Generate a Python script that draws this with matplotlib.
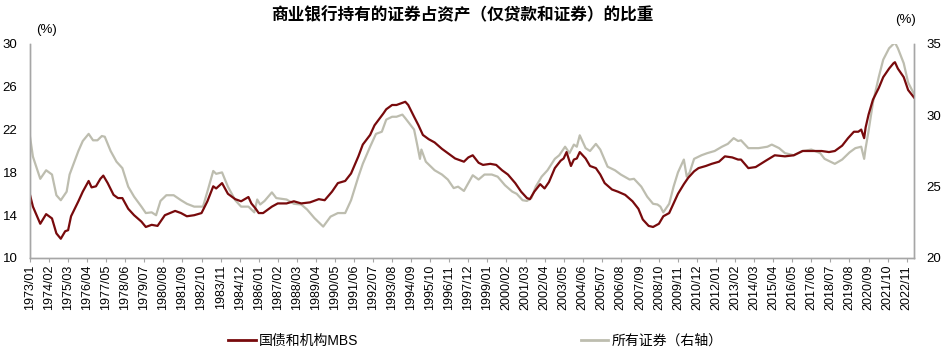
import matplotlib
matplotlib.use('Agg')
import matplotlib.pyplot as plt
from matplotlib.lines import Line2D

plt.rcParams['font.family'] = ['Liberation Sans', 'Noto Sans CJK SC', 'DejaVu Sans']

# 国债和机构MBS (left axis, %)
mbs_dates = ['1973/01', '1973/03', '1973/08', '1973/12', '1974/04', '1974/07', '1974/10', '1975/01',
             '1975/03', '1975/05', '1975/10', '1976/01', '1976/05', '1976/07', '1976/10', '1977/01',
             '1977/03', '1977/06', '1977/10', '1978/01', '1978/04', '1978/08', '1978/12', '1979/05',
             '1979/08', '1979/12', '1980/04', '1980/09', '1981/04', '1981/08', '1981/12', '1982/05',
             '1982/10', '1983/02', '1983/06', '1983/08', '1983/12', '1984/04', '1984/09', '1985/01',
             '1985/06', '1985/08', '1985/11', '1986/01', '1986/04', '1986/10', '1987/02', '1987/08',
             '1988/01', '1988/06', '1988/12', '1989/06', '1989/10', '1990/03', '1990/07', '1990/12',
             '1991/04', '1991/09', '1991/12', '1992/05', '1992/08', '1993/02', '1993/04', '1993/08',
             '1993/11', '1994/03', '1994/05', '1994/07', '1994/11', '1995/02', '1995/05', '1995/09',
             '1996/01', '1996/06', '1996/10', '1997/03', '1997/09', '1997/12', '1998/03', '1998/07',
             '1998/10', '1999/03', '1999/07', '1999/11', '2000/03', '2000/08', '2000/12', '2001/04',
             '2001/06', '2001/09', '2002/01', '2002/04', '2002/07', '2002/11', '2003/03', '2003/05',
             '2003/07', '2003/10', '2003/12', '2004/02', '2004/04', '2004/08', '2004/11', '2005/03',
             '2005/06', '2005/09', '2006/02', '2006/06', '2006/11', '2007/04', '2007/08', '2007/11',
             '2008/03', '2008/06', '2008/10', '2009/01', '2009/05', '2009/08', '2009/11', '2010/03',
             '2010/06', '2010/10', '2011/01', '2011/06', '2011/10', '2012/03', '2012/07', '2012/12',
             '2013/04', '2013/06', '2013/11', '2014/04', '2014/11', '2015/05', '2015/12', '2016/06',
             '2016/12', '2017/06', '2018/01', '2018/06', '2018/10', '2019/03', '2019/07', '2019/11',
             '2020/02', '2020/04', '2020/06', '2020/07', '2020/09', '2020/12', '2021/04', '2021/07',
             '2021/11', '2022/02', '2022/03', '2022/05', '2022/09', '2022/12', '2023/04']
mbs_vals = [15.9, 14.8, 13.2, 14.1, 13.7, 12.3, 11.8, 12.5,
            12.6, 13.9, 15.3, 16.2, 17.2, 16.6, 16.7, 17.4,
            17.7, 17.0, 15.9, 15.6, 15.6, 14.6, 14.0, 13.4,
            12.9, 13.1, 13.0, 14.0, 14.4, 14.2, 13.9, 14.0,
            14.2, 15.3, 16.7, 16.5, 17.0, 16.0, 15.5, 15.3,
            15.7, 15.1, 14.6, 14.2, 14.2, 14.8, 15.1, 15.1,
            15.3, 15.1, 15.2, 15.5, 15.4, 16.2, 17.0, 17.2,
            17.9, 19.5, 20.6, 21.5, 22.4, 23.5, 23.9, 24.3,
            24.3, 24.5, 24.6, 24.3, 23.2, 22.4, 21.5, 21.1,
            20.8, 20.2, 19.8, 19.3, 19.0, 19.4, 19.6, 18.9,
            18.7, 18.8, 18.7, 18.2, 17.8, 17.0, 16.2, 15.6,
            15.5, 16.2, 16.9, 16.5, 17.1, 18.4, 19.1, 19.3,
            19.9, 18.6, 19.2, 19.3, 19.9, 19.3, 18.6, 18.4,
            17.8, 17.0, 16.4, 16.2, 15.9, 15.3, 14.6, 13.6,
            13.0, 12.9, 13.2, 13.9, 14.2, 15.1, 16.0, 16.9,
            17.5, 18.1, 18.4, 18.6, 18.8, 19.0, 19.5, 19.4,
            19.2, 19.2, 18.4, 18.5, 19.1, 19.6, 19.5, 19.6,
            20.0, 20.0, 20.0, 19.9, 20.0, 20.5, 21.2, 21.8,
            21.8, 22.0, 21.2, 22.2, 23.4, 24.8, 25.9, 26.9,
            27.7, 28.2, 28.3, 27.7, 26.9, 25.7, 25.0]

# 所有证券 (right axis, %)
all_dates = ['1973/01', '1973/03', '1973/08', '1973/12', '1974/04', '1974/07', '1974/10', '1975/02',
             '1975/04', '1975/10', '1976/01', '1976/05', '1976/08', '1976/11', '1977/02', '1977/04',
             '1977/08', '1977/12', '1978/04', '1978/08', '1978/12', '1979/05', '1979/08', '1979/12',
             '1980/03', '1980/06', '1980/10', '1981/03', '1981/08', '1981/12', '1982/05', '1982/11',
             '1983/02', '1983/06', '1983/08', '1983/12', '1984/04', '1984/09', '1985/01', '1985/06',
             '1985/10', '1985/12', '1986/02', '1986/05', '1986/10', '1987/01', '1987/08', '1988/01',
             '1988/06', '1988/10', '1989/03', '1989/09', '1990/02', '1990/07', '1990/12', '1991/04',
             '1991/09', '1991/12', '1992/05', '1992/09', '1993/01', '1993/04', '1993/08', '1993/11',
             '1994/03', '1994/05', '1994/11', '1995/01', '1995/03', '1995/04', '1995/07', '1996/01',
             '1996/06', '1996/10', '1997/02', '1997/05', '1997/09', '1997/12', '1998/03', '1998/07',
             '1998/11', '1999/04', '1999/08', '2000/01', '2000/06', '2000/09', '2001/01', '2001/04',
             '2001/07', '2001/10', '2002/02', '2002/06', '2002/11', '2003/02', '2003/06', '2003/09',
             '2003/12', '2004/02', '2004/04', '2004/08', '2004/11', '2005/03', '2005/06', '2005/11',
             '2006/04', '2006/08', '2007/02', '2007/05', '2007/10', '2008/02', '2008/06', '2008/09',
             '2008/11', '2009/01', '2009/05', '2009/08', '2009/11', '2010/03', '2010/05', '2010/07',
             '2010/10', '2011/03', '2011/07', '2011/12', '2012/05', '2012/09', '2013/01', '2013/04',
             '2013/06', '2013/11', '2014/06', '2014/12', '2015/03', '2015/08', '2015/12', '2016/06',
             '2016/12', '2017/06', '2017/12', '2018/03', '2018/07', '2018/10', '2019/03', '2019/08',
             '2019/12', '2020/04', '2020/06', '2020/07', '2020/09', '2020/12', '2021/04', '2021/07',
             '2021/11', '2022/03', '2022/05', '2022/09', '2022/12', '2023/04']
all_vals = [28.5, 27.1, 25.55, 26.15, 25.85, 24.4, 24.05, 24.65,
            25.85, 27.5, 28.2, 28.7, 28.25, 28.25, 28.55, 28.5,
            27.5, 26.75, 26.3, 25.0, 24.3, 23.6, 23.15, 23.2,
            23.0, 24.0, 24.4, 24.4, 24.05, 23.8, 23.6, 23.6,
            24.65, 26.1, 25.9, 26.0, 25.0, 24.05, 23.6, 23.6,
            23.2, 24.1, 23.75, 24.0, 24.6, 24.2, 24.1, 23.8,
            23.75, 23.4, 22.8, 22.2, 22.9, 23.15, 23.15, 24.05,
            25.7, 26.6, 27.8, 28.7, 28.85, 29.7, 29.9, 29.9,
            30.05, 29.8, 29.0, 28.0, 26.95, 27.6, 26.75, 26.15,
            25.85, 25.5, 24.9, 25.0, 24.7, 25.25, 25.8, 25.5,
            25.85, 25.85, 25.7, 25.1, 24.65, 24.5, 24.05, 24.0,
            24.2, 25.0, 25.7, 26.15, 26.95, 27.2, 27.8, 27.35,
            27.95, 27.8, 28.6, 27.7, 27.5, 28.0, 27.6, 26.4,
            26.15, 25.85, 25.5, 25.55, 25.0, 24.3, 23.8, 23.75,
            23.6, 23.2, 23.8, 25.0, 26.0, 26.9, 25.7, 26.0,
            26.95, 27.2, 27.35, 27.5, 27.8, 28.0, 28.4, 28.2,
            28.25, 27.7, 27.7, 27.8, 27.95, 27.7, 27.35, 27.2,
            27.5, 27.6, 27.35, 26.95, 26.75, 26.6, 26.9, 27.4,
            27.7, 27.8, 26.95, 27.7, 28.9, 30.9, 32.7, 33.9,
            34.7, 35.1, 34.7, 33.65, 32.3, 31.5]

red = '#780a0c'
grey = '#bdbdaf'


def month_idx(s):
    y, m = s.split('/')
    return (int(y) - 1973) * 12 + int(m) - 1


x_mbs = [month_idx(d) for d in mbs_dates]
x_all = [month_idx(d) for d in all_dates]

fig = plt.figure(figsize=(9.45, 3.55), dpi=100)
ax = fig.add_axes([30 / 945, 97 / 355, 884 / 945, 214 / 355])
ax2 = ax.twinx()

ax2.plot(x_all, all_vals, color=grey, lw=1.6)
ax.plot(x_mbs, mbs_vals, color=red, lw=1.6)
ax.set_zorder(ax2.get_zorder() + 1)
ax.patch.set_visible(False)

ax.set_xlim(0, 603)
ax.set_ylim(10, 30)
ax.set_yticks(range(10, 31, 4))
ax2.set_ylim(20, 35)
ax2.set_yticks([20, 25, 30, 35])

ticks = list(range(0, 599, 13))
ax.set_xticks(ticks)
ax.set_xticklabels([f'{1973 + t // 12}/{t % 12 + 1:02d}' for t in ticks], rotation=90, fontsize=9)

for a in (ax, ax2):
    for side in a.spines:
        a.spines[side].set_color('#a6a6a6')
        a.spines[side].set_linewidth(1)
    a.spines['top'].set_visible(False)
ax.tick_params(axis='y', length=0, pad=9, labelsize=9.5)
ax2.tick_params(axis='y', length=0, pad=9, labelsize=9.5)
ax.tick_params(axis='x', length=3, color='#a6a6a6', pad=2)

fig.text(36 / 945, 1 - 30 / 355, '(%)', fontsize=9.5, va='center', ha='left')
fig.text(895 / 945, 1 - 20 / 355, '(%)', fontsize=9.5, va='center', ha='left')
fig.text(0.489, 1 - 15 / 355, '商业银行持有的证券占资产（仅贷款和证券）的比重',
         fontsize=12, fontweight='bold', ha='center', va='center')

handles = [Line2D([], [], color=red, lw=2), Line2D([], [], color=grey, lw=2)]
fig.legend(handles, ['国债和机构MBS', '所有证券（右轴）'], loc='center', ncol=2,
           bbox_to_anchor=(0.503, 14 / 355), frameon=False, fontsize=10,
           handlelength=2, handletextpad=0.2, columnspacing=16)

fig.savefig('out.png', dpi=100)
